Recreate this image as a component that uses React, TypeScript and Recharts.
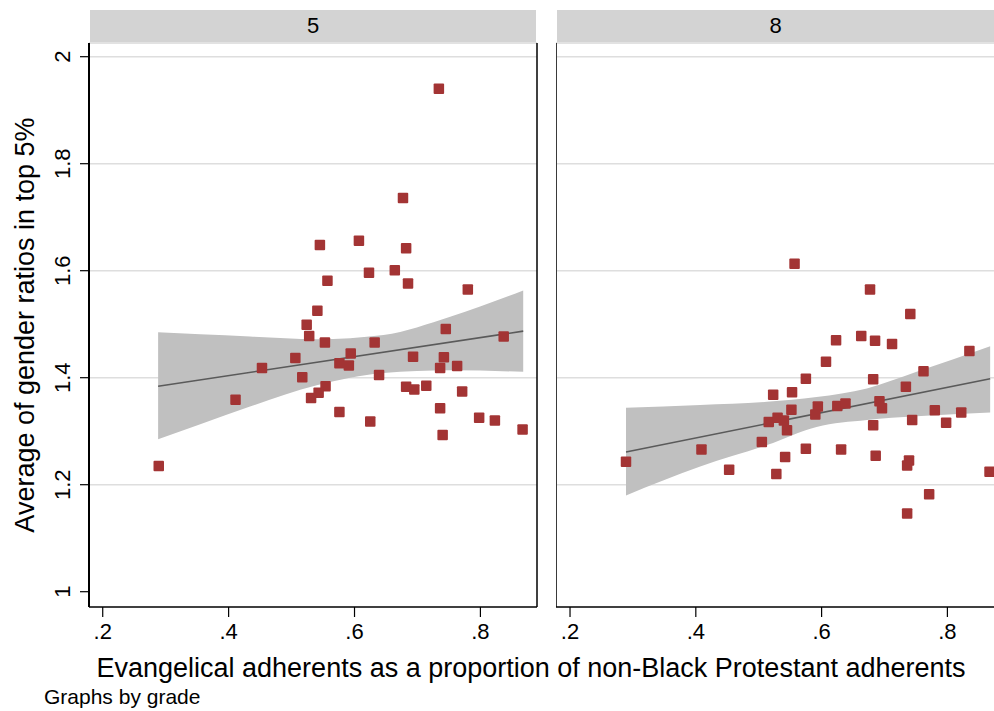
import React from "react";
import {
  ComposedChart,
  Scatter,
  Area,
  XAxis,
  YAxis,
  CartesianGrid,
  ReferenceLine,
} from "recharts";

const FONT = "'Liberation Sans', Arial, Helvetica, sans-serif";
const MARKER = "#a33434";
const BAND = "#c0c0c0";
const FIT = "#5a5a5a";

const X_TICKS = [0.2, 0.4, 0.6, 0.8];
const Y_TICKS = [1, 1.2, 1.4, 1.6, 1.8, 2];
const GRID_Y = [1.2, 1.4, 1.6, 1.8, 2];
const Y_DOMAIN: [number, number] = [0.9714, 2.0256];

// grade 5
const G5_X = [0.734, 0.677, 0.545, 0.607, 0.682, 0.623, 0.664, 0.685, 0.557, 0.78, 0.541, 0.524, 0.528, 0.553, 0.632, 0.745, 0.837, 0.506, 0.453, 0.594, 0.576, 0.591, 0.693, 0.742, 0.736, 0.763, 0.517, 0.639, 0.554, 0.543, 0.531, 0.411, 0.682, 0.695, 0.714, 0.771, 0.576, 0.625, 0.736, 0.798, 0.823, 0.867, 0.74, 0.289];
const G5_Y = [1.94, 1.736, 1.648, 1.656, 1.642, 1.596, 1.601, 1.576, 1.581, 1.565, 1.525, 1.499, 1.478, 1.466, 1.466, 1.491, 1.477, 1.437, 1.418, 1.445, 1.427, 1.423, 1.439, 1.438, 1.418, 1.422, 1.401, 1.405, 1.384, 1.372, 1.362, 1.359, 1.383, 1.378, 1.385, 1.374, 1.336, 1.318, 1.343, 1.325, 1.32, 1.303, 1.293, 1.235];
const G5_FIT_X = [0.288, 0.868];
const G5_FIT_Y = [1.384, 1.487];
const G5_BAND_X = [0.288, 0.355, 0.434, 0.54, 0.646, 0.752, 0.868];
const G5_BAND_LO = [1.285, 1.313, 1.346, 1.386, 1.409, 1.414, 1.411];
const G5_BAND_HI = [1.485, 1.481, 1.477, 1.472, 1.48, 1.514, 1.563];

// grade 8
const G8_X = [0.557, 0.677, 0.741, 0.623, 0.663, 0.685, 0.712, 0.835, 0.607, 0.575, 0.682, 0.762, 0.734, 0.523, 0.553, 0.692, 0.696, 0.594, 0.625, 0.638, 0.552, 0.59, 0.516, 0.53, 0.54, 0.545, 0.744, 0.78, 0.822, 0.798, 0.682, 0.505, 0.409, 0.289, 0.453, 0.542, 0.575, 0.631, 0.686, 0.739, 0.736, 0.528, 0.867, 0.771, 0.736];
const G8_Y = [1.613, 1.565, 1.519, 1.47, 1.478, 1.469, 1.463, 1.45, 1.43, 1.398, 1.397, 1.412, 1.383, 1.368, 1.373, 1.356, 1.343, 1.346, 1.347, 1.352, 1.34, 1.331, 1.317, 1.325, 1.32, 1.302, 1.321, 1.339, 1.335, 1.316, 1.311, 1.28, 1.266, 1.243, 1.228, 1.252, 1.267, 1.266, 1.254, 1.245, 1.236, 1.22, 1.224, 1.182, 1.146];
const G8_FIT_X = [0.289, 0.868];
const G8_FIT_Y = [1.261, 1.398];
const G8_BAND_X = [0.289, 0.407, 0.513, 0.592, 0.672, 0.751, 0.868];
const G8_BAND_LO = [1.18, 1.234, 1.274, 1.308, 1.321, 1.328, 1.335];
const G8_BAND_HI = [1.344, 1.349, 1.355, 1.364, 1.38, 1.411, 1.459];

const zip = (xs: number[], ys: number[]) => xs.map((x, i) => ({ x, y: ys[i] }));
const bandRows = (xs: number[], lo: number[], hi: number[]) =>
  xs.map((x, i) => ({ x, band: [lo[i], hi[i]] }));

const fmtX = (v: number) => String(v).replace(/^0\./, ".");
const fmtY = (v: number) => String(v);

const Square = (p: any) => (
  <rect x={p.cx - 5.25} y={p.cy - 5.25} width={10.5} height={10.5} rx={1} fill={MARKER} />
);
const NoDot = () => <g />;

const YTick = ({ x, y, payload }: any) => (
  <text
    x={x}
    y={y}
    transform={`rotate(-90 ${x} ${y})`}
    textAnchor="middle"
    fontSize={22}
    fontFamily={FONT}
    fill="#000"
  >
    {fmtY(payload.value)}
  </text>
);

type PanelProps = {
  left: number;
  width: number;
  xDomain: [number, number];
  points: { x: number; y: number }[];
  fit: { x: number; y: number }[];
  band: { x: number; band: number[] }[];
  withYAxis: boolean;
};

function Panel({ left, width, xDomain, points, fit, band, withYAxis }: PanelProps) {
  return (
    <div style={{ position: "absolute", left, top: 0 }}>
      <ComposedChart
        width={width}
        height={711}
        data={band}
        margin={{ top: 43, right: withYAxis ? 3 : 0, bottom: 44, left: 0 }}
      >
        <CartesianGrid vertical={false} horizontalValues={GRID_Y} stroke="#dedede" strokeWidth={1.5} />
        <XAxis
          dataKey="x"
          type="number"
          domain={xDomain}
          allowDataOverflow
          ticks={X_TICKS}
          interval={0}
          tickFormatter={fmtX}
          height={60}
          tickSize={10}
          tickMargin={6}
          tickLine={{ stroke: "#000", strokeWidth: 1.2 }}
          axisLine={{ stroke: "#000", strokeWidth: 1.5 }}
          tick={{ fill: "#000", fontSize: 22, fontFamily: FONT }}
        />
        <YAxis
          dataKey="y"
          type="number"
          domain={Y_DOMAIN}
          allowDataOverflow
          ticks={Y_TICKS}
          interval={0}
          hide={!withYAxis}
          width={89}
          tickSize={9}
          tickMargin={10}
          tickLine={{ stroke: "#000", strokeWidth: 1.2 }}
          axisLine={{ stroke: "#000", strokeWidth: 2 }}
          tick={<YTick />}
        />
        <ReferenceLine y={Y_DOMAIN[1]} stroke="#d8d8d8" strokeWidth={1.5} />
        {withYAxis ? (
          <ReferenceLine x={xDomain[1]} stroke="#000" strokeWidth={1.5} />
        ) : (
          <ReferenceLine x={xDomain[0]} stroke="#3a3a3a" strokeWidth={2} />
        )}
        <Area
          dataKey="band"
          type="monotone"
          fill={BAND}
          fillOpacity={1}
          stroke="none"
          isAnimationActive={false}
        />
        <Scatter
          data={fit}
          line={{ stroke: FIT, strokeWidth: 1.6 }}
          shape={NoDot}
          isAnimationActive={false}
        />
        <Scatter data={points} shape={Square} isAnimationActive={false} />
      </ComposedChart>
    </div>
  );
}

const stripStyle = (left: number, width: number): React.CSSProperties => ({
  position: "absolute",
  left,
  top: 10,
  width,
  height: 32,
  background: "#d3d3d3",
  textAlign: "center",
  lineHeight: "32px",
  fontSize: 22,
  fontFamily: FONT,
  color: "#000",
});

export default function App() {
  return (
    <div
      style={{
        position: "absolute",
        left: 0,
        top: 0,
        width: 994,
        height: 711,
        background: "#fff",
        overflow: "hidden",
        fontFamily: FONT,
      }}
    >
      <div style={stripStyle(90, 446)}>5</div>
      <div style={stripStyle(557, 437)}>8</div>

      <Panel
        left={0}
        width={540}
        xDomain={[0.1782, 0.8899]}
        points={zip(G5_X, G5_Y)}
        fit={zip(G5_FIT_X, G5_FIT_Y)}
        band={bandRows(G5_BAND_X, G5_BAND_LO, G5_BAND_HI)}
        withYAxis
      />
      <Panel
        left={556}
        width={438}
        xDomain={[0.1777, 0.8741]}
        points={zip(G8_X, G8_Y)}
        fit={zip(G8_FIT_X, G8_FIT_Y)}
        band={bandRows(G8_BAND_X, G8_BAND_LO, G8_BAND_HI)}
        withYAxis={false}
      />

      <div
        style={{
          position: "absolute",
          left: 25 - 300,
          top: 325 - 15,
          width: 600,
          height: 30,
          lineHeight: "30px",
          textAlign: "center",
          fontSize: 27,
          color: "#000",
          transform: "rotate(-90deg)",
          whiteSpace: "nowrap",
        }}
      >
        Average of gender ratios in top 5%
      </div>
      <div
        style={{
          position: "absolute",
          left: 81,
          top: 653,
          width: 900,
          lineHeight: "30px",
          textAlign: "center",
          fontSize: 27,
          color: "#000",
          whiteSpace: "nowrap",
        }}
      >
        Evangelical adherents as a proportion of non-Black Protestant adherents
      </div>
      <div
        style={{
          position: "absolute",
          left: 44,
          top: 685,
          lineHeight: "24px",
          fontSize: 21,
          color: "#000",
          whiteSpace: "nowrap",
        }}
      >
        Graphs by grade
      </div>
    </div>
  );
}
